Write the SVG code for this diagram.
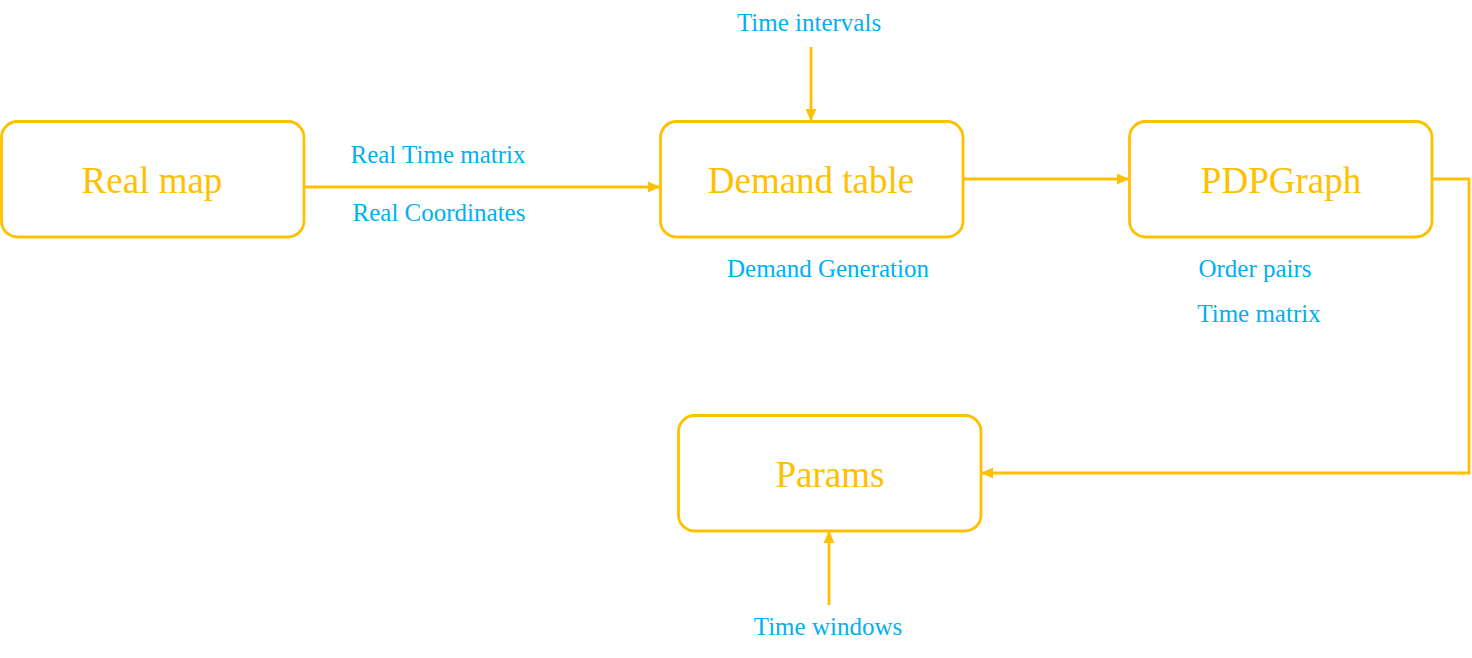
<svg xmlns="http://www.w3.org/2000/svg" width="1472" height="658" viewBox="0 0 1472 658">
<style>
.box{fill:#fff;stroke:#FFC000;stroke-width:2.8}
.bt{font-family:"Liberation Serif",serif;font-size:37px;fill:#FFC000;text-anchor:middle}
.lb{font-family:"Liberation Serif",serif;font-size:25px;fill:#00B0F0;text-anchor:middle}
.ln{fill:none;stroke:#FFC000;stroke-width:2.8;marker-end:url(#ah)}
</style>
<defs>
<marker id="ah" markerUnits="userSpaceOnUse" markerWidth="14" markerHeight="14" viewBox="0 0 14 14" refX="13" refY="7" orient="auto">
<path d="M1,1.5 L13,7 L1,12.5 Z" fill="#FFC000"/>
</marker>
</defs>
<rect width="1472" height="658" fill="#fff"/>
<g id="connectors">
<path class="ln" d="M304,187 H660"/>
<path class="ln" d="M811,47 V121"/>
<path class="ln" d="M963,179 H1129"/>
<path class="ln" d="M1432,179 H1469 V473 H981"/>
<path class="ln" d="M829,605 V531"/>
</g>
<g id="realmap">
<rect class="box" x="1.5" y="121.5" width="302.5" height="115.5" rx="16"/>
<text class="bt" x="152" y="193">Real map</text>
</g>
<g id="demandtable">
<rect class="box" x="660.5" y="121.5" width="302.5" height="115.5" rx="16"/>
<text class="bt" x="811" y="193">Demand table</text>
</g>
<g id="pdpgraph">
<rect class="box" x="1129.5" y="121.5" width="302.5" height="115.5" rx="16"/>
<text class="bt" x="1281" y="193">PDPGraph</text>
</g>
<g id="params">
<rect class="box" x="678.5" y="415.5" width="302.5" height="115.5" rx="16"/>
<text class="bt" x="830" y="487">Params</text>
</g>
<g id="labels">
<text class="lb" x="438" y="163">Real Time matrix</text>
<text class="lb" x="439" y="221">Real Coordinates</text>
<text class="lb" x="809" y="31">Time intervals</text>
<text class="lb" x="828" y="277">Demand Generation</text>
<text class="lb" x="1255" y="277">Order pairs</text>
<text class="lb" x="1259" y="322">Time matrix</text>
<text class="lb" x="828" y="635">Time windows</text>
</g>
</svg>
